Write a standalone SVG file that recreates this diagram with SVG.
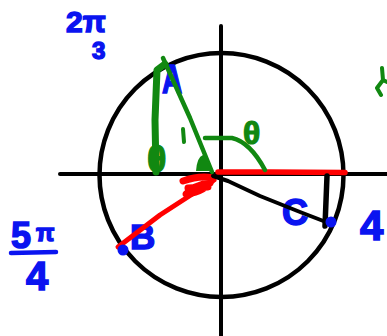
<svg xmlns="http://www.w3.org/2000/svg" width="387" height="336" viewBox="0 0 387 336">
<style>
.blk{fill:none;stroke:#000;stroke-linecap:round;stroke-linejoin:round}
.grn{fill:none;stroke:#118811;stroke-linecap:round;stroke-linejoin:round}
.red{fill:none;stroke:#ff0000;stroke-linecap:round;stroke-linejoin:round}
.bt{fill:#0a14f0;stroke:#0a14f0;stroke-width:1.5;font-family:"Liberation Sans",Arial,sans-serif;font-weight:bold}
.gt{fill:#118811;stroke:#118811;stroke-width:1.2;font-family:"Liberation Sans",Arial,sans-serif;font-weight:bold}
</style>
<rect width="387" height="336" fill="#fff"/>
<g id="axes">
<circle class="blk" cx="221.5" cy="175" r="122" stroke-width="4.5"/>
<line class="blk" x1="60" y1="174" x2="387" y2="174" stroke-width="4"/>
<line class="blk" x1="221" y1="26" x2="221" y2="336" stroke-width="4"/>
</g>
<g id="labels">
<text class="bt" x="66" y="32" font-size="30">2π</text>
<text class="bt" x="92" y="59" font-size="24">3</text>
<text class="bt" x="11" y="248" font-size="36">5</text>
<text class="bt" x="36" y="241" font-size="24">π</text>
<line x1="11" y1="253" x2="56" y2="252" stroke="#0a14f0" stroke-width="4.5" stroke-linecap="round"/>
<text class="bt" x="26" y="290" font-size="40">4</text>
<text class="bt" x="360" y="240" font-size="42">4</text>
<text class="bt" x="162" y="93" font-size="40" transform="translate(162 93) scale(0.7 1) translate(-162 -93)">A</text>
<text class="bt" x="130" y="249" font-size="35">B</text>
<text class="bt" x="282" y="225" font-size="36">C</text>
</g>
<g id="red">
<path class="red" d="M218,172 L270,172 L345,172.5" stroke-width="5.5"/>
<path class="red" d="M214,180 L160,215 L118,247" stroke-width="5"/>
<path class="red" d="M183,181 Q200,175 213,178 Q206,192 186,194 Q194,185 210,183 M188,188 L208,187" stroke-width="7"/>
</g>
<g id="black-lines">
<path class="blk" d="M213,176 L228,181 L260,196 L300,212 L326,222" stroke-width="4"/>
<path class="blk" d="M327,176 L325,226" stroke-width="5.5"/>
</g>
<g id="green">
<path class="grn" d="M165,64 L157,70 L155,120 L156,172" stroke-width="7"/>
<path class="grn" d="M163,58 L190,118 L212,172" stroke-width="4.5"/>
<path class="grn" d="M205,138 L232,138 Q250,142 265,170" stroke-width="4.5"/>
<path d="M196,171 Q197,157 203,155 Q211,159 211,171 Z" fill="#118811"/>
<text class="gt" x="147" y="172" font-size="36">θ</text>
<line x1="183" y1="129" x2="184" y2="142" stroke="#118811" stroke-width="4" stroke-linecap="round"/>
<text class="gt" x="243" y="144" font-size="32">θ</text>
<path class="grn" d="M382,68 L383,80 L377,88 L381,95 M383,80 L387,82" stroke-width="4"/>
</g>
<g id="dots">
<circle cx="123" cy="250" r="5.5" fill="#0a14f0"/>
<circle cx="331" cy="222" r="5.5" fill="#0a14f0"/>
</g>
</svg>
